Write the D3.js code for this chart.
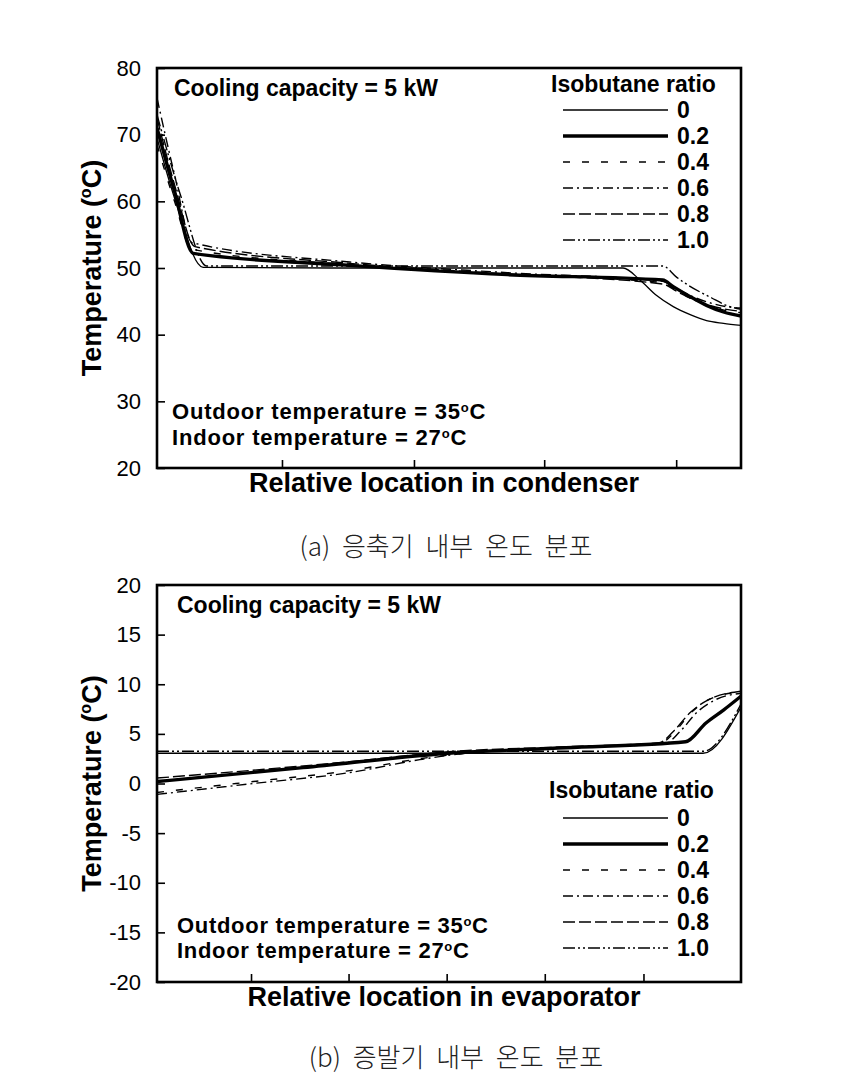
<!DOCTYPE html>
<html><head><meta charset="utf-8">
<script src="https://cdn.jsdelivr.net/npm/d3@7"></script>
<style>body{margin:0;background:#fff} svg{display:block}</style>
</head><body><svg id="c" width="853" height="1076"></svg>
<script>
// ---------- data ----------
const ratios = ["0", "0.2", "0.4", "0.6", "0.8", "1.0"];

// condenser (relative location 0..1, temperature °C)
const condYTicks = [20, 30, 40, 50, 60, 70, 80];
const condXTicks = [0.214, 0.44, 0.663, 0.889];
const cond_0   = [[0,69.5],[0.03,60.5],[0.079,50.1],[0.3,50.0],[0.798,50.0],[0.827,48.2],[0.855,45.9],[0.884,44.2],[0.913,43.0],[0.941,42.1],[0.97,41.7],[1.0,41.4]];
const cond_02  = [[0,71.0],[0.03,61.5],[0.062,52.2],[0.33,50.4],[0.6,49.0],[0.866,48.2],[0.884,47.2],[0.913,45.7],[0.941,44.4],[0.97,43.4],[1.0,42.8]];
const cond_04  = [[0,68.5],[0.03,60.0],[0.06,52.8],[0.33,50.5],[0.6,49.0],[0.866,47.8],[0.89,46.6],[0.92,45.2],[0.95,44.2],[0.975,43.6],[1.0,43.3]];
const cond_06  = [[0,75.5],[0.03,64.0],[0.06,53.8],[0.33,50.9],[0.6,49.3],[0.866,48.0],[0.89,46.9],[0.92,45.6],[0.95,44.7],[0.975,44.2],[1.0,44.0]];
const cond_08  = [[0,72.5],[0.03,62.5],[0.065,53.2],[0.33,50.7],[0.6,49.1],[0.866,47.6],[0.89,46.5],[0.92,45.2],[0.95,44.3],[0.975,43.8],[1.0,43.5]];
const cond_10  = [[0,73.0],[0.04,61.0],[0.085,50.3],[0.3,50.3],[0.866,50.3],[0.89,48.6],[0.91,47.4],[0.95,45.5],[0.975,44.4],[1.0,43.8]];

// evaporator
const evapYTicks = [-20, -15, -10, -5, 0, 5, 10, 15, 20];
const evapXTicks = [0.161, 0.328, 0.496, 0.664, 0.833];
const evap_0   = [[0,3.05],[0.935,3.05],[1.0,7.7]];
const evap_02  = [[0,0.2],[0.25,1.6],[0.5,3.05],[0.7,3.6],[0.905,4.2],[0.94,6.1],[0.97,7.4],[1.0,8.8]];
const evap_04  = [[0,-0.9],[0.165,0.2],[0.33,1.3],[0.45,2.5],[0.52,3.0],[0.7,3.6],[0.86,4.0],[0.885,5.1],[0.914,7.1],[0.943,8.4],[1.0,9.25]];
const evap_06  = [[0,-1.1],[0.165,0.0],[0.33,1.1],[0.45,2.4],[0.52,3.0],[0.7,3.6],[0.87,4.0],[0.895,5.2],[0.925,7.2],[0.955,8.4],[1.0,9.1]];
const evap_08  = [[0,0.55],[0.33,2.2],[0.5,3.2],[0.7,3.7],[0.86,4.1],[0.885,5.3],[0.914,7.2],[0.943,8.4],[1.0,9.3]];
const evap_10  = [[0,3.25],[0.935,3.25],[1.0,8.0]];

const styles = [
  {w:1.3, dash:null},
  {w:3.4, dash:null},
  {w:1.4, dash:"7,12"},
  {w:1.4, dash:"10,4,2,4"},
  {w:1.4, dash:"12,4"},
  {w:1.4, dash:"12,3,2,3,2,3"}
];

const svg = d3.select("#c");
const FONT = "'Liberation Sans', Arial, sans-serif";
const BFS = 23;

function panel(cfg) {
  const {left, top, width, height, yDomain, yTicks, xTicks, series, xTitle} = cfg;
  const x = d3.scaleLinear().domain([0, 1]).range([left, left + width]);
  const y = d3.scaleLinear().domain(yDomain).range([top + height, top]);
  const g = svg.append("g");

  const clipId = "clip" + top;
  svg.append("clipPath").attr("id", clipId).append("rect")
    .attr("x", left).attr("y", top).attr("width", width).attr("height", height);

  const line = d3.line().x(d => x(d[0])).y(d => y(d[1])).curve(d3.curveMonotoneX);
  const lg = g.append("g").attr("clip-path", `url(#${clipId})`);
  series.forEach((s, i) => {
    lg.append("path").datum(s).attr("d", line)
      .attr("fill", "none").attr("stroke", "#000")
      .attr("stroke-width", styles[i].w)
      .attr("stroke-dasharray", styles[i].dash)
      .attr("stroke-linejoin", "round");
  });

  // axes (ticks inward)
  const yAx = d3.axisLeft(y).tickValues(yTicks).tickSize(-8).tickPadding(16).tickFormat(d => String(d));
  const ya = g.append("g").attr("transform", `translate(${left},0)`).call(yAx);
  ya.select(".domain").remove();
  ya.selectAll(".tick line").attr("stroke-width", 1.6);
  ya.selectAll("text").attr("font-family", FONT).attr("font-size", 22).attr("fill", "#000");

  const xAx = d3.axisBottom(x).tickValues(xTicks).tickSize(-8).tickFormat("");
  const xa = g.append("g").attr("transform", `translate(0,${top + height})`).call(xAx);
  xa.select(".domain").remove();
  xa.selectAll(".tick line").attr("stroke-width", 1.6);

  g.append("rect").attr("x", left).attr("y", top).attr("width", width).attr("height", height)
    .attr("fill", "none").attr("stroke", "#000").attr("stroke-width", 2.6);

  // axis titles
  g.append("text").attr("x", left + width / 2 - 5).attr("y", top + height + 24)
    .attr("text-anchor", "middle").attr("font-family", FONT).attr("font-weight", "bold")
    .attr("font-size", 27).text(xTitle);

  const yt = g.append("text").attr("transform", `translate(${left - 56},${top + height / 2}) rotate(-90)`)
    .attr("text-anchor", "middle").attr("font-family", FONT).attr("font-weight", "bold")
    .attr("font-size", 27);
  yt.append("tspan").text("Temperature (");
  yt.append("tspan").attr("font-size", 16).attr("dy", -10).text("o");
  yt.append("tspan").attr("dy", 10).text("C)");
  return {x, y, g};
}

function boldText(g, xp, yp, parts, size, ls) {
  const t = g.append("text").attr("x", xp).attr("y", yp)
    .attr("font-family", FONT).attr("font-weight", "bold").attr("font-size", size || BFS)
    .attr("letter-spacing", ls || 0);
  parts.forEach(p => {
    if (p.sup) t.append("tspan").attr("font-size", 13).attr("dy", -7).text(p.sup);
    else t.append("tspan").attr("dy", p.down ? 7 : 0).text(p.t);
  });
}

function legend(g, titleX, titleY, rowY0) {
  g.append("text").attr("x", titleX).attr("y", titleY)
    .attr("font-family", FONT).attr("font-weight", "bold").attr("font-size", BFS).text("Isobutane ratio");
  ratios.forEach((r, i) => {
    const yy = rowY0 + i * 26;
    g.append("line").attr("x1", 563).attr("x2", 668).attr("y1", yy).attr("y2", yy)
      .attr("stroke", "#000").attr("stroke-width", styles[i].w).attr("stroke-dasharray", styles[i].dash);
    g.append("text").attr("x", 677).attr("y", yy + 8)
      .attr("font-family", FONT).attr("font-weight", "bold").attr("font-size", BFS).text(r);
  });
}

// ---------- condenser ----------
const p1 = panel({left:157, top:68, width:584, height:400, yDomain:[20,80], yTicks:condYTicks,
  xTicks:condXTicks, series:[cond_0, cond_02, cond_04, cond_06, cond_08, cond_10],
  xTitle:"Relative location in condenser"});
boldText(p1.g, 174, 96, [{t:"Cooling capacity = 5 kW"}]);
boldText(p1.g, 172, 419, [{t:"Outdoor temperature = 35"},{sup:"o"},{t:"C", down:true}], 22, 0.8);
boldText(p1.g, 172, 445, [{t:"Indoor temperature = 27"},{sup:"o"},{t:"C", down:true}], 22, 0.8);
legend(p1.g, 551, 92, 110);

// ---------- evaporator ----------
const p2 = panel({left:157, top:585, width:584, height:397, yDomain:[-20,20], yTicks:evapYTicks,
  xTicks:evapXTicks, series:[evap_0, evap_02, evap_04, evap_06, evap_08, evap_10],
  xTitle:"Relative location in evaporator"});
boldText(p2.g, 177, 613, [{t:"Cooling capacity = 5 kW"}]);
boldText(p2.g, 177, 933, [{t:"Outdoor temperature = 35"},{sup:"o"},{t:"C", down:true}], 22, 0.7);
boldText(p2.g, 177, 958, [{t:"Indoor temperature = 27"},{sup:"o"},{t:"C", down:true}], 22, 0.7);
legend(p2.g, 549, 798, 818);

// captions
const CK = "'Noto Sans CJK KR', 'Noto Sans', sans-serif";
svg.append("text").attr("x", 446).attr("y", 556).attr("text-anchor", "middle")
  .attr("font-family", CK).attr("font-weight", 300).attr("font-size", 26).attr("fill", "#222")
  .attr("word-spacing", 6).text("(a) 응축기 내부 온도 분포");
svg.append("text").attr("x", 456).attr("y", 1067).attr("text-anchor", "middle")
  .attr("font-family", CK).attr("font-weight", 300).attr("font-size", 26).attr("fill", "#222")
  .attr("word-spacing", 6).text("(b) 증발기 내부 온도 분포");
</script></body></html>
